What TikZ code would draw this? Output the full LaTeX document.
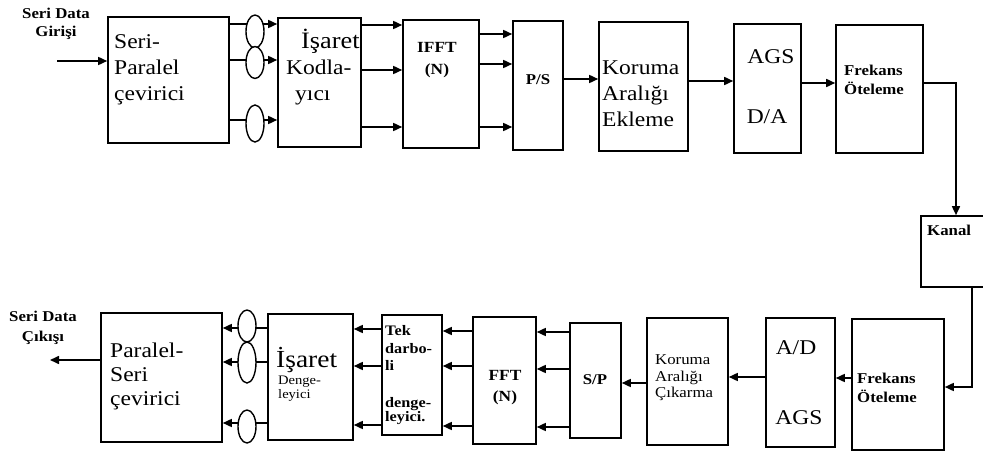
\documentclass[tikz,border=0pt]{standalone}
\usepackage{fontspec}
\setmainfont{Liberation Serif}[FakeStretch=1.12]
\usetikzlibrary{arrows.meta,shapes.geometric}
\begin{document}
\begin{tikzpicture}[x=1pt,y=-1pt,
  blk/.style={draw,line width=1.6pt,inner sep=0pt},
  oval/.style={draw,fill=white,ellipse,line width=1.4pt,inner sep=0pt,minimum width=18pt},
  arr/.style={line width=1.6pt,-{Triangle[length=9pt,width=8pt]}},
  big/.style={inner sep=0pt,font=\fontsize{21}{26}\selectfont},
  sml/.style={inner sep=0pt,font=\fontsize{15}{19}\selectfont\bfseries},
  reg/.style={inner sep=0pt,font=\fontsize{15}{16.5}\selectfont},
  tiny/.style={inner sep=0pt,font=\fontsize{13}{14}\selectfont}]
\useasboundingbox (0,0) rectangle (983,452);
% ---------- top row boxes ----------
\node[blk,minimum width=121pt,minimum height=126pt] (sp) at (168.5,80) {};
\node[blk,minimum width=83pt,minimum height=129pt] (ik) at (319.5,82.5) {};
\node[blk,minimum width=76pt,minimum height=128pt] (ifft) at (441,84) {};
\node[blk,minimum width=50pt,minimum height=129pt] (ps) at (538,85.5) {};
\node[blk,minimum width=89pt,minimum height=129pt] (ke) at (643.5,86.5) {};
\node[blk,minimum width=67pt,minimum height=129pt] (da) at (767.5,88.5) {};
\node[blk,minimum width=87pt,minimum height=128pt] (fo1) at (879.5,89) {};
\node[blk,minimum width=70pt,minimum height=71pt] (kanal) at (956,251.5) {};
% ---------- bottom row boxes ----------
\node[blk,minimum width=92pt,minimum height=131pt] (fo2) at (898,384.5) {};
\node[blk,minimum width=69pt,minimum height=129pt] (ad) at (800.5,382.5) {};
\node[blk,minimum width=81pt,minimum height=127pt] (kc) at (687.5,381.5) {};
\node[blk,minimum width=51pt,minimum height=115pt] (sp2) at (595.5,380.5) {};
\node[blk,minimum width=63pt,minimum height=127pt] (fft) at (504.5,380.5) {};
\node[blk,minimum width=60pt,minimum height=120pt] (tek) at (412,375) {};
\node[blk,minimum width=85pt,minimum height=126pt] (id) at (310.5,377) {};
\node[blk,minimum width=121pt,minimum height=129pt] (ps2) at (161.5,377.5) {};
% ---------- texts ----------
\node[sml,align=center,font=\fontsize{15}{18}\selectfont\bfseries] (tin) at (56,24) {Seri Data\\Girişi};
\node[big,align=left,anchor=west] (tsp) at (114,70) {Seri-\\Paralel\\çevirici};
\node[big,align=left,anchor=west] (tik) at (286,67) {\hspace{15pt}{\fontsize{23.5}{26}\selectfont İşaret}\\Kodla-\\\hspace{9pt}yıcı};
\node[sml,align=center,font=\fontsize{15.5}{22}\selectfont\bfseries] (tifft) at (437,60) {IFFT\\(N)};
\node[sml] (tps) at (538,80) {P/S};
\node[big,align=left,anchor=west] (tke) at (602,94) {Koruma\\Aralığı\\Ekleme};
\node[big] (tags1) at (771,57) {AGS};
\node[big] (tda) at (767,117) {D/A};
\node[sml,align=left,anchor=west] (tfo1) at (844,80) {Frekans\\Öteleme};
\node[sml,anchor=west] (tkanal) at (927,230) {Kanal};
\node[sml,align=left,anchor=west] (tfo2) at (857,388) {Frekans\\Öteleme};
\node[big] (tad) at (796,348) {A/D};
\node[big] (tags2) at (799,418) {AGS};
\node[reg,align=left,anchor=west] (tkc) at (655,378) {Koruma\\Aralığı\\Çıkarma};
\node[sml] (tsp2) at (595,380) {S/P};
\node[sml,align=center,font=\fontsize{15.5}{21}\selectfont\bfseries] (tfft) at (505,388) {FFT\\(N)};
\node[sml,align=left,anchor=west,font=\fontsize{14.5}{17.5}\selectfont\bfseries] (ttek1) at (385,348) {Tek\\darbo-\\li};
\node[sml,align=left,anchor=west,font=\fontsize{14.5}{14}\selectfont\bfseries] (ttek2) at (385,411) {denge-\\leyici.};
\node[big,anchor=west,font=\fontsize{24.5}{26}\selectfont] (tid1) at (276,360) {İşaret};
\node[tiny,align=left,anchor=west] (tid2) at (278,389) {Denge-\\leyici};
\node[big,align=left,anchor=west,font=\fontsize{21}{24}\selectfont] (tps2) at (110,376) {Paralel-\\Seri\\çevirici};
\node[sml,align=center,font=\fontsize{15}{20}\selectfont\bfseries] (tout) at (43,328) {Seri Data\\Çıkışı};
% ---------- top connectors ----------
\coordinate (in) at (57,61);
\draw[arr] (in) -- (in -| sp.west);
\foreach \yy in {24,60,120} \draw[arr] (sp.east |- 0,\yy) -- (ik.west |- 0,\yy);
\node[oval,minimum height=33pt] (e1) at (255,31.5) {};
\node[oval,minimum height=32pt] (e2) at (255,62.5) {};
\node[oval,minimum height=37pt] (e3) at (255,123.5) {};
\foreach \yy in {25,70,127} \draw[arr] (ik.east |- 0,\yy) -- (ifft.west |- 0,\yy);
\foreach \yy in {34,64,127} \draw[arr] (ifft.east |- 0,\yy) -- (ps.west |- 0,\yy);
\draw[arr] (ps.east |- 0,79) -- (ke.west |- 0,79);
\draw[arr] (ke.east |- 0,81) -- (da.west |- 0,81);
\draw[arr] (da.east |- 0,83) -- (fo1.west |- 0,83);
\draw[arr] (fo1.east |- 0,83) -| (kanal.north);
\draw[arr] (kanal.south -| 972,0) |- (fo2.east |- 0,387);
% ---------- bottom connectors ----------
\draw[arr] (fo2.west |- 0,378) -- (ad.east |- 0,378);
\draw[arr] (ad.west |- 0,377) -- (kc.east |- 0,377);
\draw[arr] (kc.west |- 0,383) -- (sp2.east |- 0,383);
\foreach \yy in {332,369,427} \draw[arr] (sp2.west |- 0,\yy) -- (fft.east |- 0,\yy);
\foreach \yy in {331,366,426} \draw[arr] (fft.west |- 0,\yy) -- (tek.east |- 0,\yy);
\foreach \yy in {329,366,425} \draw[arr] (tek.west |- 0,\yy) -- (id.east |- 0,\yy);
\foreach \yy in {328,362,423} \draw[arr] (id.west |- 0,\yy) -- (ps2.east |- 0,\yy);
\node[oval,minimum height=32pt] (e4) at (247,326) {};
\node[oval,minimum height=41pt] (e5) at (247,362.5) {};
\node[oval,minimum height=33pt] (e6) at (247,426.5) {};
\coordinate (out) at (50,360);
\draw[arr] (ps2.west |- out) -- (out);
\end{tikzpicture}
\end{document}
